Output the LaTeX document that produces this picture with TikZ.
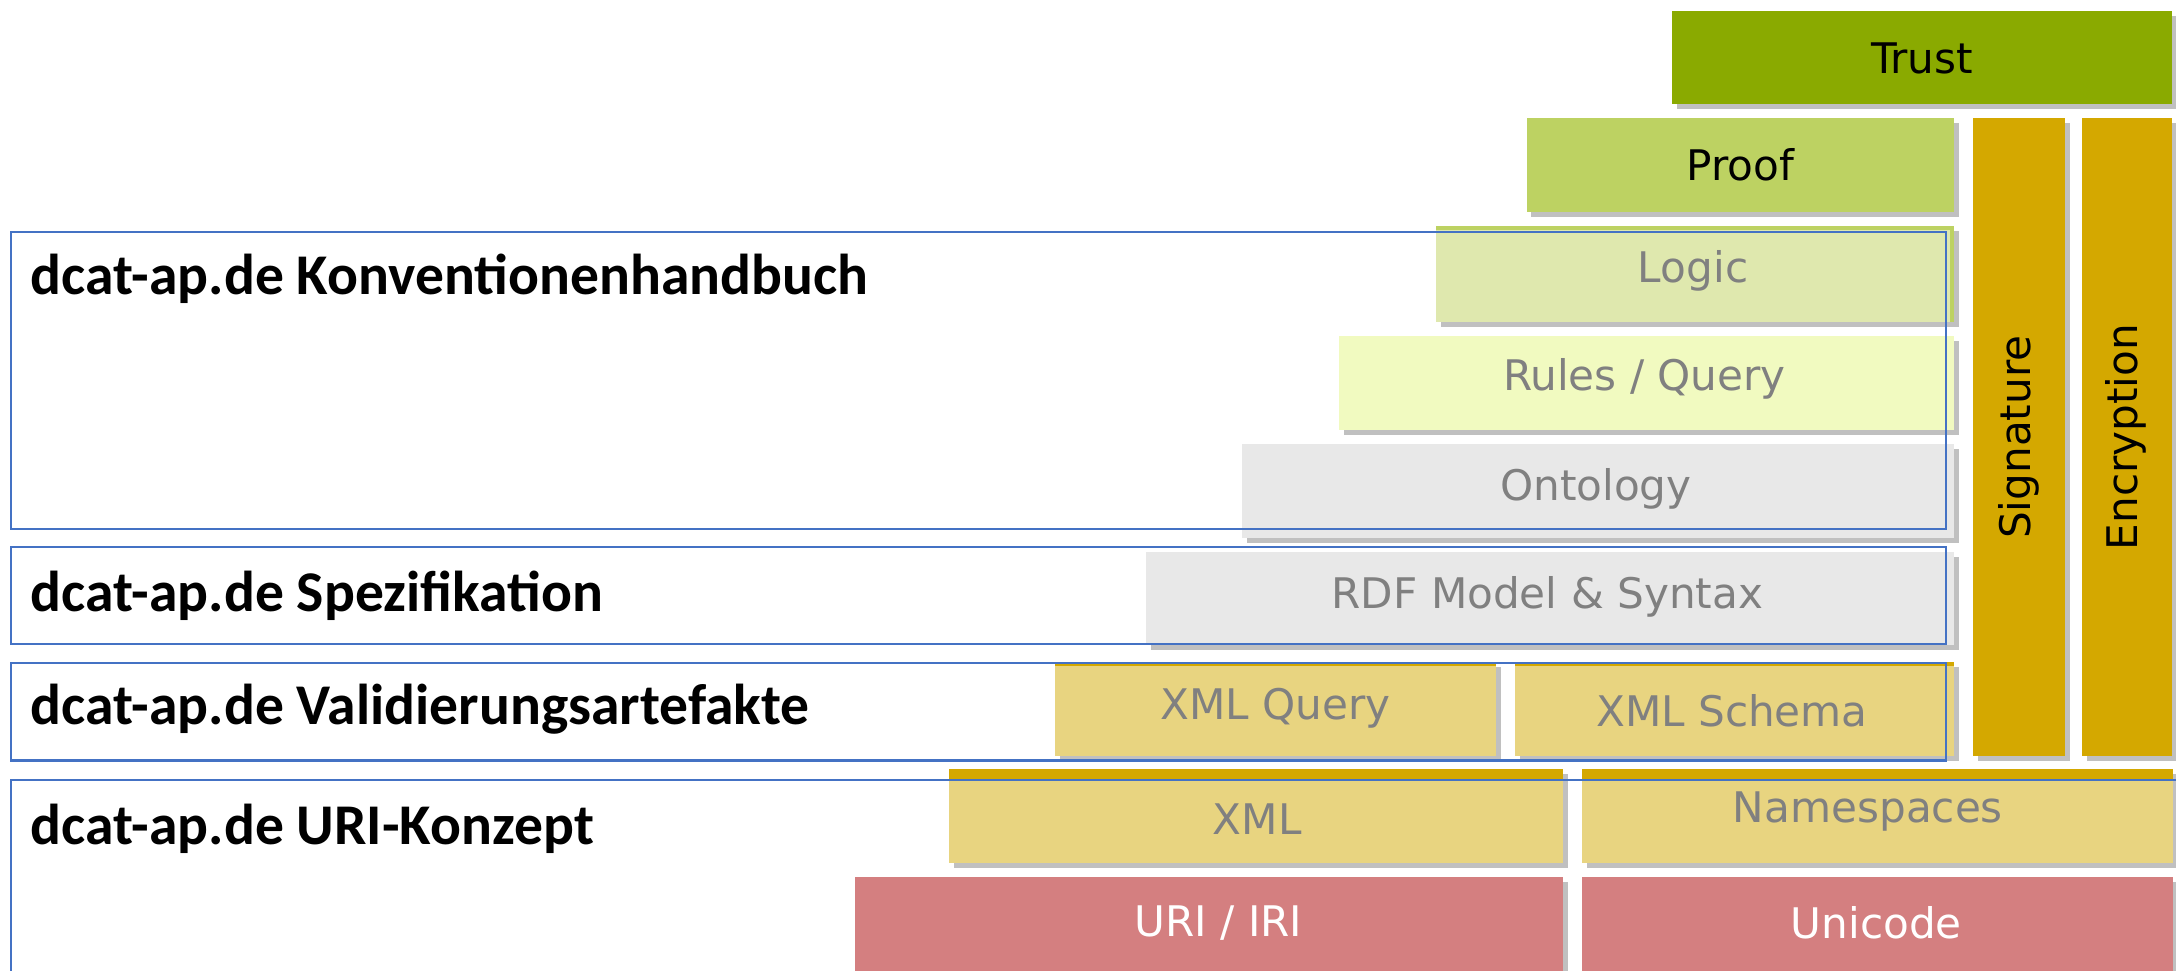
\documentclass[tikz,border=0pt]{standalone}
\usepackage{fontspec}
\setmainfont{DejaVu Sans}
\newfontfamily\speclabelfont{Carlito}
\usepackage{xcolor}
\usetikzlibrary{shadows}

\definecolor{trustgreen}{HTML}{8AAA00}
\definecolor{proofgreen}{HTML}{BDD262}
\definecolor{logicgreen}{HTML}{DFE8AE}
\definecolor{rulesyellow}{HTML}{F1FAC0}
\definecolor{ontogray}{HTML}{E8E8E8}
\definecolor{xmlsand}{HTML}{E8D480}
\definecolor{signgold}{HTML}{D4A800}
\definecolor{unired}{HTML}{D47F80}
\definecolor{specblue}{HTML}{4472C4}

\begin{document}
\begin{tikzpicture}[x=0.01388cm,y=-0.01388cm,
    layer/.style={fill=#1,draw=none,
      drop shadow={shadow xshift=1.4pt,shadow yshift=-1.4pt,opacity=.45,fill=black!55}},
    layertext/.style={font=\fontsize{12}{14}\selectfont,text=black!50},
    spec/.style={draw=specblue,line width=0.6pt},
    spectext/.style={font=\speclabelfont\bfseries\fontsize{16.4}{19}\selectfont,anchor=west}]
  \clip (0,0) rectangle (1568,699.6);
  % top of the stack
  \path[layer=trustgreen] (1205,8) rectangle (1565,75);
  \node[layertext,text=black] (trust) at (1385,42) {Trust};
  \path[layer=proofgreen] (1100,85) rectangle (1408,153);
  \node[layertext,text=black] (proof) at (1254,119) {Proof};
  \path[layer=signgold] (1422,85) rectangle (1488,545);
  \node[layertext,text=black,rotate=90] (signature) at (1455,315) {Signature};
  \path[layer=signgold] (1500,85) rectangle (1565,545);
  \node[layertext,text=black,rotate=90] (encryption) at (1532,315) {Encryption};
  % logic, rules, ontology, rdf
  \path[layer=logicgreen] (1035,163) rectangle (1408,232);
  \fill[proofgreen] (1035,163) rectangle (1408,166);
  \fill[proofgreen] (1405,163) rectangle (1408,232);
  \node[layertext] (logic) at (1220,195) {Logic};
  \path[layer=rulesyellow] (965,242) rectangle (1408,310);
  \node[layertext] (rules) at (1185,273) {Rules / Query};
  \path[layer=ontogray] (895,320) rectangle (1408,388);
  \node[layertext] (ontology) at (1150,352) {Ontology};
  \path[layer=ontogray] (826,398) rectangle (1408,465);
  \node[layertext] (rdf) at (1115,430) {RDF Model \& Syntax};
  % xml layers
  \path[layer=xmlsand] (760,477) rectangle (1078,545);
  \fill[signgold] (760,477) rectangle (1078,480);
  \node[layertext] (xmlquery) at (919,510) {XML Query};
  \path[layer=xmlsand] (1092,477) rectangle (1408,545);
  \fill[signgold] (1092,477) rectangle (1408,480);
  \node[layertext] (xmlschema) at (1248,512) {XML Schema};
  \path[layer=xmlsand] (684,554) rectangle (1126,622);
  \fill[signgold] (684,554) rectangle (1126,562);
  \node[layertext] (xml) at (906,590) {XML};
  \path[layer=xmlsand] (1140,554) rectangle (1566,622);
  \fill[signgold] (1140,554) rectangle (1566,562);
  \node[layertext] (namespaces) at (1346,585) {Namespaces};
  % bottom
  \path[layer=unired] (616,632) rectangle (1126,705);
  \node[layertext,text=white] (uri) at (878,665) {URI / IRI};
  \path[layer=unired] (1140,632) rectangle (1566,705);
  \node[layertext,text=white] (unicode) at (1352,665) {Unicode};
  % dcat-ap.de parts
  \draw[spec] (8,167) rectangle (1402,381);
  \node[spectext] (handbuch) at (13,201) {dcat-ap.de Konventionenhandbuch};
  \draw[spec] (8,394) rectangle (1402,464);
  \node[spectext] (spezifikation) at (13,429) {dcat-ap.de Spezifikation};
  \draw[spec] (8,478) rectangle (1402,548);
  \node[spectext] (validierung) at (13,511) {dcat-ap.de Validierungsartefakte};
  \draw[spec] (8,562) rectangle (1580,720);
  \node[spectext] (urikonzept) at (13,597) {dcat-ap.de URI-Konzept};
\end{tikzpicture}
\end{document}
